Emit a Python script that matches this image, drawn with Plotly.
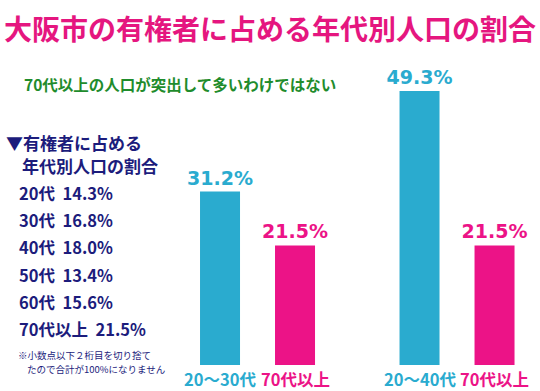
import plotly.graph_objects as go

# ---- data ----
title_text = "大阪市の有権者に占める年代別人口の割合"
subtitle_text = "70代以上の人口が突出して多いわけではない"
panel_heading = ["▼有権者に占める", "年代別人口の割合"]
age_groups = ["20代", "30代", "40代", "50代", "60代", "70代以上"]
age_shares = [14.3, 16.8, 18.0, 13.4, 15.6, 21.5]
footnote = ["※小数点以下２桁目を切り捨て", "たので合計が100%になりません"]

left_categories = ["20～30代", "70代以上"]
left_values = [31.2, 21.5]
right_categories = ["20～40代", "70代以上"]
right_values = [49.3, 21.5]

# ---- styles ----
W, H = 540, 391
CYAN = "#2AABCF"
PINK = "#EC1387"
TITLE_PINK = "#E5167F"
GREEN = "#1F8C2C"
NAVY = "#1C1C7C"
JP = "Noto Sans CJK JP, Noto Sans, sans-serif"
NUM = "DejaVu Sans, Noto Sans CJK JP, sans-serif"
bar_colors = [CYAN, PINK]

base_px = 365          # pixel row of value 0
px_per_unit = 5.56
unit_px = 75.0         # pixels per category step
bar_w = 40 / unit_px

def px_x(p):
    return p / W

fig = go.Figure()

def fmt(v):
    return f"{v:.1f}%"

for xa, cats, vals in (("x", left_categories, left_values),
                       ("x2", right_categories, right_values)):
    fig.add_trace(go.Bar(
        x=cats, y=vals, xaxis=xa, yaxis="y",
        marker=dict(color=bar_colors, line=dict(width=0)), width=[bar_w] * 2,
        text=[fmt(v) for v in vals], textposition="outside",
        constraintext="none",
        textfont=dict(family=NUM, size=19, color=bar_colors, weight="bold"),
        cliponaxis=False, showlegend=False, hoverinfo="skip",
    ))

ytop = base_px / px_per_unit
x1_left = 170
x2_left = 369.5
fig.update_layout(
    width=W, height=H,
    margin=dict(l=0, r=0, t=0, b=0),
    paper_bgcolor="white", plot_bgcolor="white",
    xaxis=dict(domain=[px_x(x1_left), px_x(x1_left + 175)],
               range=[-0.667, -0.667 + 175 / unit_px],
               visible=False, anchor="y"),
    xaxis2=dict(domain=[px_x(x2_left), 1.0],
                range=[-0.667, -0.667 + (W - x2_left) / unit_px],
                visible=False, anchor="y"),
    yaxis=dict(domain=[(H - base_px) / H, 1.0], range=[0, ytop], visible=False),
)

ann = []
# category labels under bars
for xa, cats in (("x", left_categories), ("x2", right_categories)):
    for c, col in zip(cats, bar_colors):
        ann.append(dict(x=c, y=0, xref=xa, yref="y", text=f"<b>{c}</b>",
                        showarrow=False, xanchor="center", yanchor="middle",
                        yshift=-14,
                        font=dict(family=JP, size=16.5, color=col)))

# title
ann.append(dict(x=px_x(270), y=1 - 28 / H, xref="paper", yref="paper",
                text=f"<b>{title_text}</b>", showarrow=False,
                xanchor="center", yanchor="middle",
                font=dict(family=JP, size=28, color=TITLE_PINK, weight=900)))
# subtitle
ann.append(dict(x=px_x(22), y=1 - 84 / H, xref="paper", yref="paper",
                text=f"<b>{subtitle_text}</b>", showarrow=False,
                xanchor="left", yanchor="middle",
                font=dict(family=JP, size=15.5, color=GREEN)))
# panel heading
for i, (t, xp) in enumerate(zip(panel_heading, [4, 20])):
    ann.append(dict(x=px_x(xp), y=1 - (142 + 23 * i) / H, xref="paper", yref="paper",
                    text=f"<b>{t}</b>", showarrow=False,
                    xanchor="left", yanchor="middle",
                    font=dict(family=JP, size=17, color=NAVY)))
# age rows
for i, (g, v) in enumerate(zip(age_groups, age_shares)):
    ann.append(dict(x=px_x(17), y=1 - (193 + 27.2 * i) / H, xref="paper", yref="paper",
                    text=f"<b>{g}\u00a0\u00a0{v:.1f}%</b>", showarrow=False,
                    xanchor="left", yanchor="middle",
                    font=dict(family=JP, size=16.5, color=NAVY)))
# footnote lines
for i, (t, xp) in enumerate(zip(footnote, [17, 26])):
    ann.append(dict(x=px_x(xp), y=1 - (354.5 + 14 * i) / H, xref="paper", yref="paper",
                    text=t, showarrow=False, borderpad=0,
                    xanchor="left", yanchor="middle",
                    font=dict(family=JP, size=9.5, color=NAVY)))

fig.update_layout(annotations=ann)
fig.write_html("out.html", config={"displayModeBar": False},
               post_script="document.body.style.margin='0';document.body.style.padding='0';")
